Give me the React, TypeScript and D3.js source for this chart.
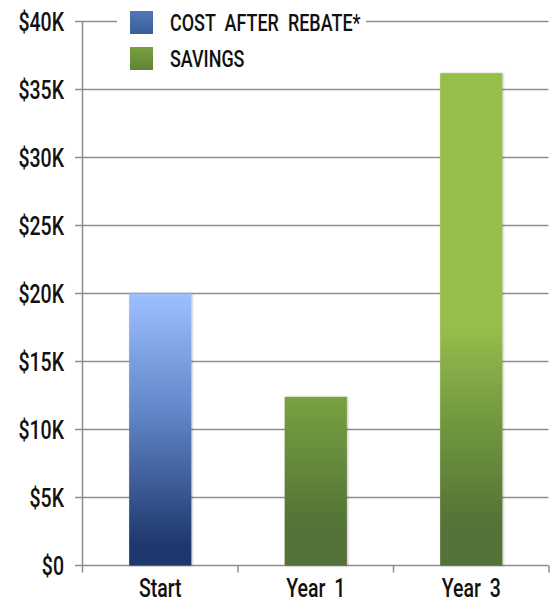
import React from "react";
import * as d3 from "d3";

const categories = ["Start", "Year 1", "Year 3"];
const costValues = [20000, 0, 0];
const savingsValues = [0, 12400, 36200];
const yTicks = [0, 5000, 10000, 15000, 20000, 25000, 30000, 35000, 40000];
const yTickLabels = ["$0", "$5K", "$10K", "$15K", "$20K", "$25K", "$30K", "$35K", "$40K"];
const legendLabels = ["COST AFTER REBATE*", "SAVINGS"];

const W = 550;
const H = 603;
const FONT = "Roboto, 'Liberation Sans', sans-serif";
const SX = 0.78;

function CText(props: { x: number; y: number; anchor?: string; size: number; children: React.ReactNode; ws?: number }) {
  return (
    <g transform={`translate(${props.x},${props.y}) scale(${SX},1)`}>
      <text x={0} y={0} textAnchor={props.anchor || "start"} fontFamily={FONT} fontWeight={500} fontSize={props.size} fill="#111" style={props.ws ? { wordSpacing: props.ws + "px" } : undefined}>
        {props.children}
      </text>
    </g>
  );
}

export default function App() {
  const x = d3.scaleBand<string>().domain(categories).range([82.5, 549]).paddingInner(0.6).paddingOuter(0.3);
  const xBand = d3.scaleBand<string>().domain(categories).range([82.5, 549]);
  const y = d3.scaleLinear().domain([0, 40000]).range([565.5, 21.5]);
  const gridColor = "#8e8e8e";

  const bars: { key: string; cat: string; v: number; fill: string }[] = [];
  categories.forEach((c, i) => {
    if (costValues[i] > 0) bars.push({ key: "c" + i, cat: c, v: costValues[i], fill: "url(#gBlue)" });
    if (savingsValues[i] > 0) bars.push({ key: "s" + i, cat: c, v: savingsValues[i], fill: "url(#gGreen)" });
  });

  return (
    <svg width={W} height={H} style={{ position: "absolute", left: 0, top: 0, background: "#fff" }}>
      <defs>
        <linearGradient id="gBlue" gradientUnits="userSpaceOnUse" x1="0" x2="0" y1={y(20000)} y2={y(1500)}>
          <stop offset="0" stopColor="#9cc0ff" />
          <stop offset="0.45" stopColor="#6389cc" />
          <stop offset="1" stopColor="#1f386c" />
        </linearGradient>
        <linearGradient id="gGreen" gradientUnits="userSpaceOnUse" x1="0" x2="0" y1={y(17500)} y2={y(3000)}>
          <stop offset="0" stopColor="#97bd4c" />
          <stop offset="0.45" stopColor="#729a3f" />
          <stop offset="1" stopColor="#547237" />
        </linearGradient>
        <linearGradient id="lBlue" x1="0" x2="0" y1="0" y2="1">
          <stop offset="0" stopColor="#5378b8" />
          <stop offset="1" stopColor="#3a5d9a" />
        </linearGradient>
        <linearGradient id="lGreen" x1="0" x2="0" y1="0" y2="1">
          <stop offset="0" stopColor="#7aa040" />
          <stop offset="1" stopColor="#5f8536" />
        </linearGradient>
        <filter id="shadow" x="-20%" y="-5%" width="140%" height="110%">
          <feDropShadow dx="1" dy="0" stdDeviation="1.2" floodColor="#000" floodOpacity="0.25" />
        </filter>
      </defs>

      {/* gridlines */}
      {yTicks.map((t) => (
        <line key={"g" + t} x1={75} x2={548.5} y1={y(t)} y2={y(t)} stroke={gridColor} strokeWidth={1.5} />
      ))}
      {/* y axis */}
      <line x1={82.5} x2={82.5} y1={y(40000)} y2={y(0)} stroke={gridColor} strokeWidth={1.5} />
      {/* x ticks */}
      {categories.map((c, i) => (
        <line key={"xt" + i} x1={(xBand(c) as number) + xBand.bandwidth()} x2={(xBand(c) as number) + xBand.bandwidth()} y1={y(0)} y2={y(0) + 7} stroke={gridColor} strokeWidth={1.5} />
      ))}
      <line x1={82.5} x2={82.5} y1={y(0)} y2={y(0) + 7} stroke={gridColor} strokeWidth={1.5} />

      {/* y labels */}
      {yTicks.map((t, i) => (
        <CText key={"yl" + t} x={64} y={y(t) + 9} anchor="end" size={25}>
          {yTickLabels[i]}
        </CText>
      ))}

      {/* bars */}
      {bars.map((b) => (
        <rect key={b.key} x={x(b.cat)} y={y(b.v)} width={x.bandwidth()} height={y(0) - y(b.v)} fill={b.fill} filter="url(#shadow)" />
      ))}

      {/* x labels */}
      {categories.map((c) => (
        <CText key={"xl" + c} x={(xBand(c) as number) + xBand.bandwidth() / 2} y={597} anchor="middle" size={25} ws={5}>
          {c}
        </CText>
      ))}

      {/* legend */}
      <rect x={117} y={0} width={249} height={78} fill="#fff" />
      {legendLabels.map((l, i) => (
        <g key={"lg" + i}>
          <rect x={130} y={11 + i * 36} width={23} height={23} fill={i === 0 ? "url(#lBlue)" : "url(#lGreen)"} />
          <CText x={170} y={31 + i * 36} size={23} ws={6}>
            {l}
          </CText>
        </g>
      ))}
    </svg>
  );
}
